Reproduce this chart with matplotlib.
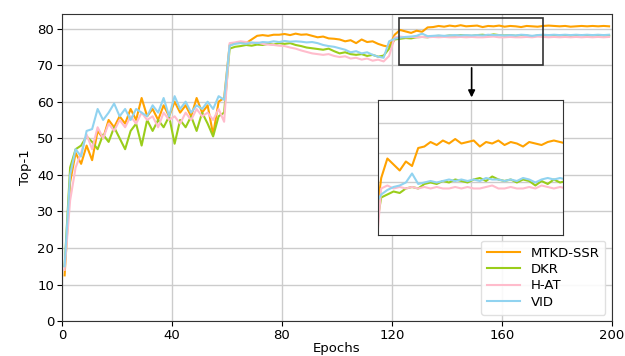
import matplotlib
matplotlib.use("Agg")
import matplotlib.pyplot as plt
from matplotlib.patches import Rectangle

# epochs sampled every 2nd epoch
epochs = list(range(1, 200, 2))

mtkd_ssr = [
    12.5, 38, 46, 43, 48, 44, 52, 50, 55, 53, 56, 54, 58, 55, 61, 56, 58, 55, 59, 56,
    60, 57, 59, 56, 61, 57, 59, 51, 60, 61,
    75.5, 76, 76.2, 76, 77, 78, 78.2, 78, 78.3, 78.3, 78.5, 78.2, 78.6, 78.3, 78.4, 78,
    77.6, 77.8, 77.3, 77.2, 77, 76.5, 76.8, 76, 77, 76.3, 76.5, 75.8, 75.3, 75.0,
    78.3, 79.6, 79.2, 78.8, 79.4, 79.1, 80.3, 80.4, 80.7, 80.5, 80.8, 80.6, 80.9, 80.6,
    80.7, 80.8, 80.4, 80.7, 80.6, 80.8, 80.5, 80.7, 80.6, 80.4, 80.7, 80.6, 80.5, 80.7,
    80.8, 80.7, 80.6, 80.7, 80.5, 80.6, 80.7, 80.6, 80.7, 80.6, 80.7, 80.6,
]
dkr = [
    15, 42, 47, 48, 50.5, 49, 47, 51, 49, 53, 50, 47, 52, 54, 48, 55, 52, 55, 53, 56,
    48.5, 55, 53, 56, 52, 57, 54, 50.5, 56, 57,
    74.5, 75, 75.2, 75.5, 75.3, 75.6, 75.5, 75.8, 75.6, 76, 75.8, 76, 75.5, 75.2, 74.8,
    74.6, 74.4, 74.2, 74.5, 73.8, 73.2, 73.5, 73, 72.8, 73, 72.5, 72.8, 72.3, 72.6, 74.5,
    77.0, 77.2, 77.4, 77.3, 77.6, 77.7, 77.6, 77.9, 78.0, 77.9, 78.1, 78.0, 78.2, 78.1,
    78.0, 78.2, 78.3, 78.1, 78.4, 78.2, 78.1, 78.2, 78.0, 78.2, 78.1, 77.8, 78.1, 77.9,
    78.2, 78.0, 78.1, 78.2, 78.0, 78.1, 78.2, 78.0, 78.1, 78.2, 78.1, 78.0,
]
h_at = [
    14, 33, 42, 46, 51, 47, 53, 50, 54, 52, 55, 53, 56, 54, 57, 55, 56, 53, 57, 55,
    56, 54, 57, 55, 58, 56, 57, 55, 58, 54.5,
    76, 76.2, 76.5, 76.3, 76.0, 76.2, 75.8, 75.6, 75.5, 75.3, 75.2, 74.8, 74.5, 74,
    73.6, 73.2, 73, 72.8, 73, 72.5, 72.2, 72.4, 71.8, 72, 71.5, 71.8, 71.2, 71.5, 71.0, 72.5,
    77.6, 77.8, 77.6, 77.7, 77.6, 77.7, 77.6, 77.7, 77.6, 77.7, 77.6, 77.6, 77.7, 77.6,
    77.7, 77.6, 77.6, 77.7, 77.8, 77.6, 77.6, 77.7, 77.6, 77.6, 77.7, 77.6, 77.8, 77.7,
    77.6, 77.7, 77.6, 77.7, 77.6, 77.7, 77.6, 77.7, 77.6, 77.7, 77.6, 77.7,
]
vid = [
    15, 40, 47, 45, 52, 52.5, 58, 55, 57, 59.5, 56, 58, 55, 58, 57, 56, 59, 57, 61, 56,
    61.5, 58, 60, 57, 59, 58, 60, 58, 61.5, 60.5,
    75.3, 75.8, 76, 75.8, 76.2, 76, 76.3, 76.2, 76.5, 76.3, 76.6, 76.4, 76.5, 76.4, 76.2,
    76.3, 76, 75.5, 75.2, 75, 74.6, 74.2, 73.5, 73.8, 73.2, 73.5, 72.8, 72.3, 72.0, 76.5,
    77.2, 77.5, 77.7, 77.8, 78.0, 78.6, 77.9, 78.0, 78.1, 78.0, 78.1, 78.2, 78.1, 78.2,
    78.1, 78.2, 78.1, 78.3, 78.2, 78.2, 78.1, 78.2, 78.1, 78.3, 78.2, 78.0, 78.2, 78.3,
    78.2, 78.3, 78.2, 78.3, 78.2, 78.3, 78.2, 78.3, 78.2, 78.3, 78.2, 78.3,
]

series = [
    ("MTKD-SSR", mtkd_ssr, "#ffa200"),
    ("DKR", dkr, "#9acd1a"),
    ("H-AT", h_at, "#ffbccc"),
    ("VID", vid, "#91d3f0"),
]

plt.rcParams.update({
    "font.family": "DejaVu Sans",
    "font.size": 9.5,
})

fig = plt.figure(figsize=(6.25, 3.56), dpi=100)
ax = fig.add_axes([0.099, 0.098, 0.880, 0.863])

for name, vals, col in series:
    ax.plot(epochs, vals, color=col, lw=1.5, label=name)

ax.set_xlim(0, 200)
ax.set_ylim(0, 84)
ax.set_xticks(range(0, 201, 40))
ax.set_yticks(range(0, 81, 10))
ax.tick_params(labelsize=9.5, pad=2)
ax.grid(True, color="#cccccc", lw=1)
ax.set_axisbelow(True)
ax.set_xlabel("Epochs", labelpad=0)
ax.set_ylabel("Top-1", labelpad=4)
for s in ax.spines.values():
    s.set_color("#333333")

ax.legend(loc="lower right", fontsize=9.5, framealpha=0.9, edgecolor="#dddddd",
          handlelength=2.5, borderpad=0.45, labelspacing=0.25)

# zoom box and arrow to the inset
ax.add_patch(Rectangle((122.5, 70), 52.5, 13, fill=False, ec="#333333", lw=1.2, zorder=5))
ax.annotate("", xy=(149, 60.4), xytext=(149, 70),
            arrowprops=dict(arrowstyle="-|>", color="black", lw=1.2, mutation_scale=10))

ins = fig.add_axes([0.605, 0.340, 0.296, 0.379])
for name, vals, col in series:
    ins.plot(epochs, vals, color=col, lw=1.5)
ins.set_xlim(120, 180)
ins.set_ylim(74.5, 83.5)
ins.set_xticks([150])
ins.set_yticks([76, 78, 80, 82])
ins.tick_params(length=0, labelbottom=False, labelleft=False)
ins.grid(True, color="#cccccc", lw=1)
ins.set_axisbelow(True)
for s in ins.spines.values():
    s.set_color("#333333")

fig.savefig("out.png", dpi=100)
